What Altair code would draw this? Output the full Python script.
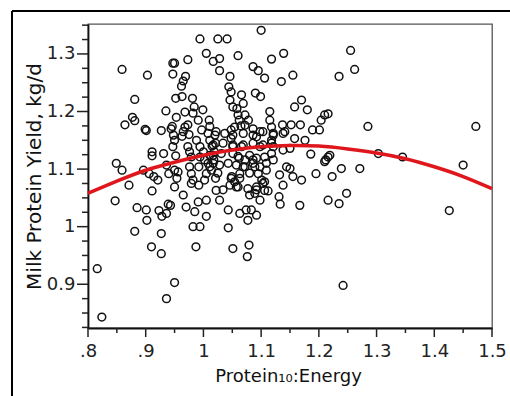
import altair as alt
import pandas as pd

# ---- scatter values (Protein10:Energy, milk protein yield kg/d)
ratio_a = [
    0.816, 0.824, 0.847, 0.849, 0.859, 0.859, 0.864, 0.871, 0.877, 0.881,
    0.881, 0.885, 0.881, 0.903, 0.899, 0.901, 0.896, 0.901, 0.902, 0.910,
    0.911, 0.911, 0.911, 0.906, 0.914, 0.921, 0.927, 0.931, 0.927, 0.927,
    0.923, 0.928, 0.936, 0.935, 0.936, 0.950, 0.939, 0.943, 0.936, 0.940,
    0.947, 0.950, 0.947, 0.952, 0.953, 0.946, 0.948, 0.950, 0.947, 0.952,
    0.950, 0.956, 0.950, 0.954, 0.963, 0.962, 0.965, 0.963, 0.969, 0.973,
    0.968, 0.965, 0.970, 0.973, 0.973, 0.976, 0.979, 0.976, 0.979, 0.982,
    0.979, 0.981, 0.984, 0.982, 0.982, 0.994, 0.987, 0.985, 0.991, 0.994,
    0.988, 0.991, 0.999, 0.997, 0.994, 0.994, 0.992, 0.992, 1.005, 1.005,
    1.005, 1.010, 1.011, 1.008, 1.011, 1.002, 1.008, 1.011, 1.014, 1.005,
    1.002, 1.017, 1.025, 1.028, 1.028, 1.022, 1.021, 1.019, 1.018, 1.021,
    1.022, 1.028, 1.041, 1.046, 1.044, 1.046, 1.048, 1.051, 1.043, 1.043,
    1.051, 1.060, 1.048, 1.048, 1.051, 1.051, 1.048, 1.054, 1.057, 1.063,
    1.066, 1.069, 1.072, 1.062, 1.066, 1.072, 1.069, 1.063, 1.074, 1.077,
    1.079, 1.076, 1.083, 1.092, 1.086, 1.095, 1.100, 1.106, 1.090, 1.099,
    1.092, 1.098, 1.086, 1.089, 1.095, 1.092, 1.089, 1.098, 1.106, 1.109,
    1.106, 1.106, 1.112, 1.115, 1.118, 1.115, 1.121, 1.118, 1.121, 1.118,
    1.135, 1.139, 1.137, 1.138, 1.138, 1.132, 1.138, 1.131, 1.133, 1.155,
    1.158, 1.152, 1.158, 1.150, 1.144, 1.150, 1.155, 1.167, 1.170, 1.168,
    1.170, 1.176, 1.180, 1.186, 1.189, 1.195, 1.201, 1.204, 1.210, 1.216,
    1.212, 1.216, 1.210, 1.219, 1.216, 1.223, 1.235, 1.239, 1.235, 1.248,
    1.242, 1.255, 1.262, 1.271, 1.285, 1.303, 1.345, 1.426, 1.450, 1.472,
]
yield_a = [
    0.927, 0.843, 1.045, 1.110, 1.098, 1.273, 1.177, 1.072, 1.190, 1.184,
    1.221, 1.033, 0.992, 1.263, 1.169, 1.167, 1.098, 1.029, 1.011, 0.965,
    1.062, 1.130, 1.123, 1.092, 1.087, 1.081, 1.167, 1.127, 0.988, 0.953,
    1.028, 1.018, 1.023, 1.201, 0.875, 0.903, 1.039, 1.037, 1.107, 1.092,
    1.284, 1.284, 1.265, 1.223, 1.190, 1.174, 1.159, 1.150, 1.139, 1.123,
    1.098, 1.095, 1.069, 1.084, 1.157, 1.244, 1.253, 1.226, 1.261, 1.290,
    1.199, 1.055, 1.034, 1.177, 1.139, 1.130, 1.121, 1.104, 1.092, 1.081,
    1.075, 1.223, 1.208, 1.197, 1.000, 1.000, 0.965, 1.026, 1.043, 1.326,
    1.150, 1.185, 1.203, 1.168, 1.139, 1.121, 1.104, 1.072, 1.301, 1.046,
    1.018, 1.185, 1.174, 1.162, 1.150, 1.116, 1.110, 1.104, 1.098, 1.092,
    1.081, 1.287, 1.326, 1.292, 1.271, 1.165, 1.145, 1.130, 1.116, 1.084,
    1.063, 1.046, 1.326, 1.261, 1.243, 1.220, 1.234, 1.208, 1.029, 0.998,
    0.962, 1.297, 1.168, 1.153, 1.139, 1.127, 1.084, 1.078, 1.069, 1.023,
    1.229, 1.214, 1.194, 1.185, 1.139, 1.116, 1.104, 1.092, 1.029, 1.011,
    0.968, 0.948, 1.029, 1.020, 1.278, 1.271, 1.341, 1.258, 1.232, 1.226,
    1.156, 1.139, 1.116, 1.104, 1.092, 1.069, 1.058, 1.046, 1.121, 1.098,
    1.078, 1.063, 1.062, 1.200, 1.291, 1.185, 1.162, 1.150, 1.139, 1.127,
    1.252, 1.301, 1.177, 1.162, 1.133, 1.090, 1.072, 1.052, 1.039, 1.263,
    1.208, 1.177, 1.153, 1.136, 1.104, 1.101, 1.087, 1.037, 1.220, 1.177,
    1.081, 1.150, 1.203, 1.126, 1.168, 1.092, 1.168, 1.185, 1.194, 1.196,
    1.116, 1.121, 1.113, 1.124, 1.046, 1.087, 1.261, 1.101, 1.040, 1.058,
    0.898, 1.306, 1.273, 1.101, 1.174, 1.127, 1.121, 1.028, 1.107, 1.174,
]
# dense core of the cloud
ratio_b = [
    1.020, 1.037, 1.051, 1.069, 1.086, 1.103, 1.121, 1.017, 1.034, 1.051,
    1.069, 1.086, 1.103, 1.118, 1.017, 1.031, 1.060, 1.062, 1.080, 1.092,
    1.121, 1.017, 1.028, 1.043, 1.057, 1.072, 1.086, 1.098, 1.109, 1.025,
    1.049, 1.063, 1.080, 1.101, 1.103, 1.046, 1.060, 1.077, 1.092, 1.034,
    1.080, 1.054, 1.072, 1.086, 1.098, 1.118, 1.141, 1.060, 1.011, 0.944,
    0.968, 0.965, 0.975, 1.000, 1.015, 1.058, 1.078, 1.065,
]
yield_b = [
    1.159, 1.162, 1.159, 1.162, 1.159, 1.165, 1.159, 1.142, 1.145, 1.142,
    1.142, 1.145, 1.142, 1.145, 1.124, 1.127, 1.122, 1.119, 1.124, 1.119,
    1.116, 1.110, 1.107, 1.110, 1.107, 1.104, 1.110, 1.104, 1.110, 1.093,
    1.087, 1.084, 1.093, 1.081, 1.075, 1.072, 1.069, 1.066, 1.064, 1.064,
    1.055, 1.173, 1.176, 1.170, 1.165, 1.173, 1.165, 1.194, 1.124, 1.170,
    1.173, 1.165, 1.160, 1.130, 1.140, 1.205, 1.185, 1.175,
]
# red fitted curve
curve_ratio = [0.80, 0.85, 0.90, 0.95, 1.00, 1.05, 1.10, 1.15, 1.20, 1.25, 1.30, 1.35, 1.40, 1.45, 1.50]
curve_yield = [1.058, 1.079, 1.098, 1.112, 1.124, 1.133, 1.139, 1.141, 1.140, 1.135, 1.128, 1.118, 1.104, 1.087, 1.066]

x_major = [0.8, 0.9, 1.0, 1.1, 1.2, 1.3, 1.4, 1.5]
x_minor = [0.85, 0.95, 1.05, 1.15, 1.25, 1.35, 1.45]
y_major = [0.9, 1.0, 1.1, 1.2, 1.3]
y_minor = [0.825, 0.85, 0.875, 0.925, 0.95, 0.975, 1.025, 1.05, 1.075,
           1.125, 1.15, 1.175, 1.225, 1.25, 1.275, 1.325, 1.35]

assert len(ratio_a) == len(yield_a) and len(ratio_b) == len(yield_b)

pts = pd.DataFrame({"x": ratio_a + ratio_b, "y": yield_a + yield_b})
crv = pd.DataFrame({"x": curve_ratio, "y": curve_yield})

FONT = "DejaVu Sans"
TICK = "#222222"
xscale = alt.Scale(domain=[0.8, 1.5], nice=False, zero=False)
yscale = alt.Scale(domain=[0.824, 1.352], nice=False, zero=False)

x_label_expr = ("abs(datum.value - 1) < 0.001 ? '1' : (datum.value < 0.95 ? "
                "replace(format(datum.value, '.1f'), '0.', '.') : format(datum.value, '.1f'))")
y_label_expr = "abs(datum.value - 1) < 0.001 ? '1' : format(datum.value, '.1f')"

points = alt.Chart(pts).mark_point(
    shape="circle", filled=False, size=60, strokeWidth=1.5, color="#111", opacity=1
).encode(
    x=alt.X("x:Q", scale=xscale, axis=alt.Axis(
        orient="bottom", values=x_major, labelExpr=x_label_expr,
        ticks=False, tickSize=0, labelPadding=14, labelFlush=False, labelOverlap=False,
        title="Protein₁₀:Energy", titleX=200, titleY=53, titleBaseline="alphabetic",
        titleAlign="center", titleFontSize=18)),
    y=alt.Y("y:Q", scale=yscale, axis=alt.Axis(
        orient="left", values=y_major, labelExpr=y_label_expr,
        ticks=False, tickSize=0, labelPadding=13, labelFlush=False, labelOverlap=False,
        title="Milk Protein Yield, kg/d", titleX=-48, titleY=152,
        titleBaseline="alphabetic", titleAlign="center", titleFontSize=20)),
)

# axis ticks (major and minor), placed through the shared scales
x_major_ticks = alt.Chart(pd.DataFrame({"v": x_major})).mark_rule(
    color=TICK, strokeWidth=1.5).encode(
    x=alt.X("v:Q", scale=xscale, axis=None), y=alt.value(304), y2=alt.value(313))
x_minor_ticks = alt.Chart(pd.DataFrame({"v": x_minor})).mark_rule(
    color=TICK, strokeWidth=1.5).encode(
    x=alt.X("v:Q", scale=xscale, axis=None), y=alt.value(304), y2=alt.value(309))
y_major_ticks = alt.Chart(pd.DataFrame({"v": y_major})).mark_rule(
    color=TICK, strokeWidth=1.5).encode(
    y=alt.Y("v:Q", scale=yscale, axis=None), x=alt.value(-11), x2=alt.value(0))
y_minor_ticks = alt.Chart(pd.DataFrame({"v": y_minor})).mark_rule(
    color=TICK, strokeWidth=1.5).encode(
    y=alt.Y("v:Q", scale=yscale, axis=None), x=alt.value(-6), x2=alt.value(0))

curve = alt.Chart(crv).mark_line(
    color="#e0161d", strokeWidth=3.5, interpolate="natural"
).encode(x=alt.X("x:Q", scale=xscale, axis=None), y=alt.Y("y:Q", scale=yscale, axis=None))

one = alt.Data(values=[{"k": 1}])
frame_top = alt.Chart(one).mark_rule(color="#000", strokeWidth=2).encode(
    x=alt.value(-76), x2=alt.value(700), y=alt.value(-13))
frame_left = alt.Chart(one).mark_rule(color="#000", strokeWidth=2).encode(
    x=alt.value(-76), y=alt.value(-13), y2=alt.value(600))

chart = alt.layer(
    points, x_major_ticks, x_minor_ticks, y_major_ticks, y_minor_ticks, curve, frame_top, frame_left
).resolve_axis(
    x="independent", y="independent"
).properties(
    width=404, height=304,
    autosize=alt.AutoSizeParams(type="none"),
    padding={"left": 88, "top": 24, "right": 18, "bottom": 68},
).configure_view(
    stroke="#555", strokeWidth=1.3
).configure_axis(
    grid=False, domainColor="#111", domainWidth=1.8,
    labelFont=FONT, labelFontSize=18, labelColor="#222",
    titleFont=FONT, titleFontWeight="normal", titleColor="#111",
)

chart.save("out.html", embed_options={"renderer": "svg", "actions": False})
